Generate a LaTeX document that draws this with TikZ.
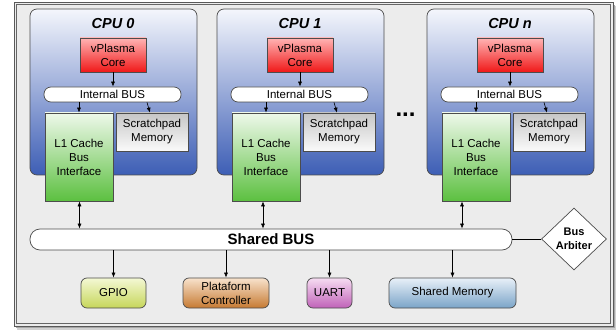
\documentclass[tikz,border=0pt]{standalone}
\usepackage{fontspec}
\setmainfont{Liberation Sans}
\usetikzlibrary{shapes.geometric,arrows.meta}

\definecolor{framefill}{HTML}{ECECEC}
\definecolor{cputop}{HTML}{F4F6FC}
\definecolor{cpubot}{HTML}{3D5EB5}
\definecolor{coretop}{HTML}{FFB4B4}
\definecolor{corebot}{HTML}{F01818}
\definecolor{ltop}{HTML}{EEF8EA}
\definecolor{lbot}{HTML}{5CC040}
\definecolor{sptop}{HTML}{C6C6C6}
\definecolor{spbot}{HTML}{FAFAFA}
\definecolor{gtop}{HTML}{F4F8D4}
\definecolor{gbot}{HTML}{C6D65A}
\definecolor{ptop}{HTML}{F8E2CC}
\definecolor{pbot}{HTML}{C67A32}
\definecolor{utop}{HTML}{F6DCF2}
\definecolor{ubot}{HTML}{C062B8}
\definecolor{mtop}{HTML}{E8F0F8}
\definecolor{mbot}{HTML}{7AA4C8}

\tikzset{
  txt/.style={font=\fontsize{11.5}{14}\selectfont, align=center},
  blk/.style={txt, draw=black!70, line width=0.7pt, inner sep=0pt,
    minimum width=#1},
  cpubox/.style={draw=black!70, line width=0.7pt, rounded corners=7pt,
    top color=cputop, bottom color=cpubot, minimum width=167pt,
    minimum height=166pt, inner sep=0pt},
  busbox/.style={txt, draw=black!70, line width=0.7pt, fill=white,
    rounded corners=7pt, inner sep=0pt},
  periph/.style={txt, draw=black!70, line width=0.7pt, rounded corners=6pt,
    minimum height=30pt, inner sep=0pt},
  arr/.style={-{Latex[length=5pt,width=4pt]}, line width=0.6pt},
  darr/.style={{Latex[length=5pt,width=4pt]}-{Latex[length=5pt,width=4pt]},
    line width=0.6pt},
}

\begin{document}
\begin{tikzpicture}[x=1pt, y=-1pt]
  \useasboundingbox (0,0) rectangle (616,331);

  % outer frame with a soft drop shadow
  \fill[black!18] (17,6) rectangle (616.5,329.5);
  \fill[black!35] (16,5) rectangle (615,328);
  \draw[black!65, line width=0.8pt, fill=framefill] (14,2.7) rectangle (613.3,326);
  \draw[black!60, line width=0.8pt] (16.5,4.9) rectangle (610.8,323.2);

  % the three processor tiles
  \foreach \L/\n in {30/0, 217/1, 427/n} {
    \node[cpubox] (cpu\n) at (\L+83.5,92) {};
    \node[font=\fontsize{14.5}{16}\selectfont\bfseries\itshape] (title\n)
      at (\L+83,24) {CPU \n};
    \node[blk=66pt, minimum height=34pt, top color=coretop,
      bottom color=corebot] (core\n) at (\L+83,55) {vPlasma\\Core};
    \node[busbox, minimum width=137pt, minimum height=15pt] (ibus\n)
      at (\L+82.5,94.5) {Internal BUS};
    \node[blk=68pt, minimum height=88pt, top color=ltop, bottom color=lbot]
      (l1\n) at (\L+49,157) {L1 Cache\\Bus\\Interface};
    \node[blk=72pt, minimum height=38pt, top color=sptop, bottom color=spbot]
      (spm\n) at (\L+122,132) {Scratchpad\\Memory};
    \draw[arr] (core\n.south) -- (ibus\n.north -| core\n.south);
    \draw[arr] (ibus\n.south -| l1\n.north) -- (l1\n.north);
    \draw[arr] ([xshift=-5pt]ibus\n.south -| spm\n.north)
      -- ([xshift=-2pt]spm\n.north);
  }

  \node[font=\fontsize{24}{24}\selectfont\bfseries, anchor=base, inner sep=0pt]
    (dots) at (405.5,116.5) {...};

  % shared interconnect
  \node[busbox, rounded corners=10pt, minimum width=482pt, minimum height=21pt,
    font=\fontsize{15}{17}\selectfont\bfseries] (sbus) at (271,239.5) {Shared BUS};
  \node[draw=black!70, line width=0.7pt, fill=white, shape=diamond, aspect=1.05,
    minimum width=65pt, minimum height=62pt, inner sep=0pt, align=center,
    font=\fontsize{11}{13.5}\selectfont\bfseries] (arb) at (574,239) {Bus\\Arbiter};
  \draw[line width=0.6pt] (sbus.east |- arb.west) -- (arb.west);

  \draw[darr] ([xshift=0.5pt]l10.south) -- ([xshift=0.5pt]l10.south |- sbus.north);
  \draw[darr] ([xshift=-3pt]l11.south) -- ([xshift=-3pt]l11.south |- sbus.north);
  \draw[darr] ([xshift=-14pt]l1n.south) -- ([xshift=-14pt]l1n.south |- sbus.north);

  % peripherals
  \node[periph, minimum width=65pt, top color=gtop, bottom color=gbot]
    (gpio) at (113.5,293) {GPIO};
  \node[periph, minimum width=86pt, top color=ptop, bottom color=pbot]
    (plat) at (226,293) {Plataform\\Controller};
  \node[periph, minimum width=45pt, top color=utop, bottom color=ubot]
    (uart) at (329.5,293) {UART};
  \node[periph, minimum width=127pt, top color=mtop, bottom color=mbot]
    (smem) at (452.5,293) {Shared Memory};

  \foreach \p in {gpio, plat, uart, smem}
    \draw[arr] (sbus.south -| \p.north) -- (\p.north);
\end{tikzpicture}
\end{document}
